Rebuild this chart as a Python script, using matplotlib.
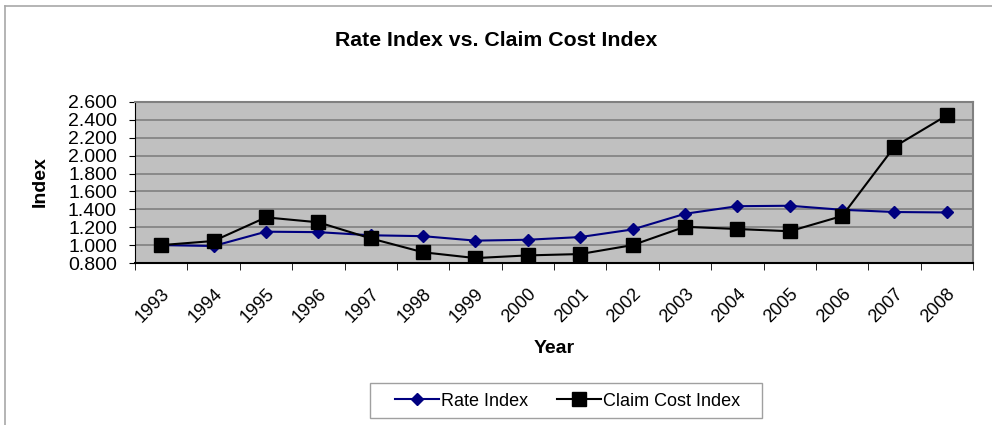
import matplotlib
matplotlib.use('Agg')
import matplotlib.pyplot as plt
import numpy as np
from matplotlib.patches import Rectangle
from matplotlib.lines import Line2D

plt.rcParams['font.family'] = ['Liberation Sans', 'DejaVu Sans']

# Index series by policy year
years = ['1993', '1994', '1995', '1996', '1997', '1998', '1999', '2000',
         '2001', '2002', '2003', '2004', '2005', '2006', '2007', '2008']
rate_index = [1.000, 0.990, 1.150, 1.145, 1.110, 1.100, 1.050, 1.060,
              1.090, 1.175, 1.350, 1.435, 1.440, 1.395, 1.370, 1.365]
claim_cost_index = [1.000, 1.046, 1.310, 1.255, 1.075, 0.920, 0.855, 0.885,
                    0.900, 1.000, 1.205, 1.180, 1.155, 1.325, 2.100, 2.450]
y_ticks = [0.8, 1.0, 1.2, 1.4, 1.6, 1.8, 2.0, 2.2, 2.4, 2.6]

W, H = 992, 425
fig = plt.figure(figsize=(W / 100, H / 100), dpi=100)

# chart area border (only top and left edges fall inside the image)
fig.add_artist(Line2D([5 / W, 5 / W], [0, 1 - 6 / H], color='#a8a8a8', lw=1.2))
fig.add_artist(Line2D([5 / W, 1], [1 - 6 / H, 1 - 6 / H], color='#a8a8a8', lw=1.2))

ax = fig.add_axes([135 / W, 1 - 263 / H, (973 - 135) / W, (263 - 102) / H])
ax.set_facecolor('#c0c0c0')

x = np.arange(len(years))
ax.plot(x, rate_index, color='#000080', marker='D', markersize=6.5, lw=1.5,
        label='Rate Index', zorder=3)
ax.plot(x, claim_cost_index, color='black', marker='s', markersize=9.5, lw=1.5,
        label='Claim Cost Index', zorder=3)

ax.set_xlim(-0.5, len(years) - 0.5)
ax.set_ylim(0.8, 2.6)
ax.set_yticks(y_ticks)
ax.set_yticklabels(['{:.3f}'.format(v) for v in y_ticks], fontsize=14)
ax.yaxis.grid(True, color='#808080', lw=1.2)
ax.set_axisbelow(True)

# category ticks sit between the years
ax.set_xticks(np.arange(len(years) + 1) - 0.5, minor=True)
ax.set_xticks(x)
ax.set_xticklabels(years, rotation=45, ha='right', rotation_mode='anchor', fontsize=13)
ax.tick_params(axis='x', which='major', length=0, pad=16)
ax.tick_params(axis='x', which='minor', length=5, color='black')
ax.tick_params(axis='y', length=4, pad=9)

for side in ['top', 'right']:
    ax.spines[side].set_color('#808080')
    ax.spines[side].set_linewidth(1.5)
ax.spines['left'].set_color('black')
ax.spines['bottom'].set_color('black')
ax.spines['bottom'].set_linewidth(1.5)

ax.set_xlabel('Year', fontsize=14, fontweight='bold', va='center')
ax.xaxis.set_label_coords(0.5, (263 - 349) / 161)
ax.set_ylabel('Index', fontsize=14, fontweight='bold', va='center')
ax.yaxis.set_label_coords((40 - 135) / 838, (263 - 182) / 161)

fig.text(0.5, 1 - 40 / H, 'Rate Index vs. Claim Cost Index', ha='center', va='center',
         fontsize=15.3, fontweight='bold')

# legend box drawn separately so its padding can be wider than tall
fig.patches.append(Rectangle((370 / W, 1 - 418 / H), 392 / W, 35 / H,
                             transform=fig.transFigure, fill=False,
                             edgecolor='#a0a0a0', lw=1))
fig.legend(loc='center', bbox_to_anchor=(568 / W, 1 - 401 / H), ncol=2,
           fontsize=13, frameon=False, handlelength=2.4, handletextpad=0.15,
           columnspacing=1.6)

fig.savefig('out.png', dpi=100, facecolor='white')
